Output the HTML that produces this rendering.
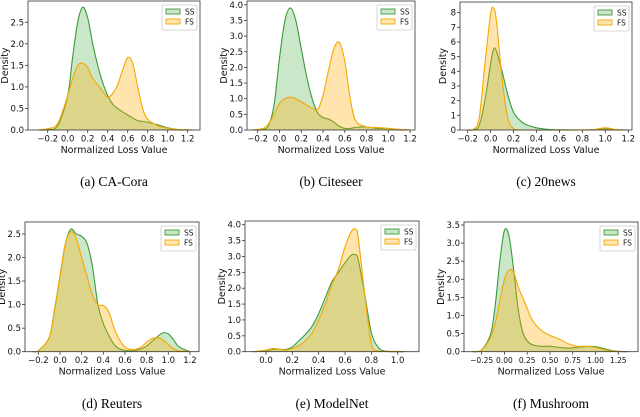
<!DOCTYPE html>
<html><head><meta charset="utf-8">
<style>
html,body{margin:0;padding:0;background:#fff;}
svg{display:block;font-family:"DejaVu Sans","Liberation Sans",sans-serif;}
.cap{font-family:"Liberation Serif",serif;font-size:13.5px;}
</style></head>
<body>
<svg id="fig" width="640" height="417" viewBox="0 0 640 417"></svg>
<script>
// Panel (a) CA-Cora
const xsA=[-0.3,-0.2,-0.1,0,0.05,0.1,0.15,0.2,0.25,0.3,0.35,0.4,0.45,0.5,0.55,0.6,0.65,0.7,0.75,0.8,0.9,1.0,1.1,1.25];
const ssA=[0,0.01,0.1,0.8,1.7,2.5,2.85,2.6,2.0,1.5,1.1,0.8,0.6,0.5,0.42,0.35,0.28,0.22,0.2,0.18,0.12,0.05,0.01,0];
const fsA=[0,0.03,0.15,0.8,1.2,1.5,1.55,1.45,1.2,1.05,0.9,0.76,0.85,1.05,1.4,1.68,1.55,1.0,0.5,0.25,0.1,0.04,0.01,0];
const xtA=["-0.2","0.0","0.2","0.4","0.6","0.8","1.0","1.2"];
const ytA=["0.0","0.5","1.0","1.5","2.0","2.5"];
// Panel (b) Citeseer
const xsB=[-0.25,-0.15,-0.1,-0.05,0,0.05,0.1,0.15,0.2,0.25,0.3,0.35,0.4,0.45,0.5,0.55,0.6,0.65,0.7,0.8,0.9,1.0,1.1,1.2];
const ssB=[0,0.02,0.15,0.8,2.3,3.5,3.9,3.5,2.6,1.7,1.0,0.55,0.4,0.35,0.25,0.12,0.05,0.05,0.08,0.1,0.05,0.05,0.01,0];
const fsB=[0,0.05,0.2,0.5,0.85,1.0,1.05,1.0,0.9,0.8,0.7,0.65,1.1,1.9,2.6,2.8,2.2,1.0,0.3,0.1,0.08,0.05,0.02,0];
const xtB=["-0.2","0.0","0.2","0.4","0.6","0.8","1.0","1.2"];
const ytB=["0.0","0.5","1.0","1.5","2.0","2.5","3.0","3.5","4.0"];
// Panel (c) 20news
const xsC=[-0.2,-0.15,-0.1,-0.05,0,0.025,0.05,0.1,0.15,0.2,0.25,0.3,0.4,0.5,0.6,0.8,0.9,0.95,1.0,1.05,1.1,1.2];
const ssC=[0,0.02,0.3,2.0,4.5,5.5,5.4,4.0,2.4,1.2,0.7,0.4,0.15,0.04,0.01,0,0.02,0.05,0.08,0.05,0.01,0];
const fsC=[0,0.05,0.8,4.5,7.9,8.3,7.5,3.5,0.8,0.1,0,0,0,0,0,0,0.03,0.1,0.15,0.1,0.02,0];
const xtC=["-0.2","0.0","0.2","0.4","0.6","0.8","1.0","1.2"];
const ytC=["0","1","2","3","4","5","6","7","8"];
// Panel (d) Reuters
const xsD=[-0.25,-0.2,-0.1,-0.05,0,0.05,0.1,0.15,0.2,0.25,0.3,0.35,0.4,0.45,0.5,0.55,0.6,0.65,0.7,0.75,0.8,0.85,0.9,0.95,1.0,1.05,1.1,1.2];
const ssD=[0,0.02,0.3,0.9,1.6,2.3,2.6,2.5,2.45,2.3,1.8,1.0,0.6,0.35,0.15,0.06,0.03,0.02,0.03,0.06,0.12,0.22,0.32,0.4,0.38,0.25,0.1,0];
const fsD=[0,0.02,0.3,0.9,1.6,2.3,2.55,2.4,2.0,1.6,1.2,1.0,0.98,0.85,0.5,0.25,0.1,0.05,0.05,0.1,0.2,0.28,0.3,0.25,0.15,0.06,0.02,0];
const xtD=["-0.2","0.0","0.2","0.4","0.6","0.8","1.0","1.2"];
const ytD=["0.0","0.5","1.0","1.5","2.0","2.5"];
// Panel (e) ModelNet
const xsE=[-0.1,0,0.05,0.1,0.15,0.2,0.25,0.3,0.35,0.4,0.45,0.5,0.55,0.6,0.65,0.68,0.7,0.75,0.8,0.85,0.9,1.0,1.05];
const ssE=[0,0.03,0.07,0.08,0.07,0.15,0.35,0.55,0.8,1.2,1.7,2.2,2.5,2.8,3.05,3.05,2.9,1.8,0.6,0.15,0.02,0,0];
const fsE=[0,0.05,0.1,0.08,0.05,0.1,0.2,0.35,0.6,1.0,1.5,2.1,2.6,3.3,3.8,3.85,3.6,1.8,0.25,0.03,0.01,0.01,0];
const xtE=["0.0","0.2","0.4","0.6","0.8","1.0"];
const ytE=["0.0","0.5","1.0","1.5","2.0","2.5","3.0","3.5","4.0"];
// Panel (f) Mushroom
const xsF=[-0.35,-0.25,-0.15,-0.1,-0.05,0,0.05,0.1,0.15,0.2,0.25,0.3,0.4,0.5,0.6,0.7,0.8,0.9,1.0,1.1,1.2,1.35];
const ssF=[0,0.05,0.5,1.3,2.5,3.35,3.2,2.3,1.2,0.55,0.3,0.2,0.15,0.15,0.12,0.1,0.12,0.14,0.14,0.08,0.02,0];
const fsF=[0,0.05,0.4,0.8,1.4,2.0,2.25,2.2,1.8,1.5,1.2,0.9,0.6,0.45,0.35,0.22,0.15,0.15,0.12,0.05,0.01,0];
const xtF=["-0.25","0.00","0.25","0.50","0.75","1.00","1.25"];
const ytF=["0.0","0.5","1.0","1.5","2.0","2.5","3.0","3.5"];

const NS="http://www.w3.org/2000/svg";
const svg=document.getElementById('fig');
function mk(tag,attrs,parent,text){const e=document.createElementNS(NS,tag);for(const k in attrs)e.setAttribute(k,attrs[k]);if(text!==undefined)e.textContent=text;(parent||svg).appendChild(e);return e;}

const panels=[
 {id:'a',cap:'(a) CA-Cora',L:28,R:200,T:1,B:130,x0:67.7,xs:100,ys:43.1,xv:xsA,ss:ssA,fs:fsA,xt:xtA,yt:ytA,capY:186,xf:8.5},
 {id:'b',cap:'(b) Citeseer',L:247,R:415,T:1,B:130,x0:279.5,xs:108.8,ys:31.3,xv:xsB,ss:ssB,fs:fsB,xt:xtB,yt:ytB,capY:186,xf:8.5},
 {id:'c',cap:'(c) 20news',L:460,R:632,T:2,B:130,x0:490.6,xs:114.7,ys:14.67,xv:xsC,ss:ssC,fs:fsC,xt:xtC,yt:ytC,capY:186,xf:8.5},
 {id:'d',cap:'(d) Reuters',L:25,R:199,T:222,B:351.7,x0:60,xs:108.3,ys:47.1,xv:xsD,ss:ssD,fs:fsD,xt:xtD,yt:ytD,capY:408,xf:8.5},
 {id:'e',cap:'(e) ModelNet',L:245,R:419,T:221,B:351.7,x0:266,xs:131.7,ys:31.75,xv:xsE,ss:ssE,fs:fsE,xt:xtE,yt:ytE,capY:408,xf:8.5},
 {id:'f',cap:'(f) Mushroom',L:464,R:638,T:222,B:351.7,x0:504.4,xs:91.1,ys:36.2,xv:xsF,ss:ssF,fs:fsF,xt:xtF,yt:ytF,capY:408,xf:7.5}
];

function smoothPath(pts){
 let d='M'+pts[0][0].toFixed(2)+','+pts[0][1].toFixed(2);
 for(let i=0;i<pts.length-1;i++){
  const p0=pts[i-1]||pts[i],p1=pts[i],p2=pts[i+1],p3=pts[i+2]||p2;
  const c1x=p1[0]+(p2[0]-p0[0])/6,c1y=p1[1]+(p2[1]-p0[1])/6;
  const c2x=p2[0]-(p3[0]-p1[0])/6,c2y=p2[1]-(p3[1]-p1[1])/6;
  d+=' C'+c1x.toFixed(2)+','+c1y.toFixed(2)+' '+c2x.toFixed(2)+','+c2y.toFixed(2)+' '+p2[0].toFixed(2)+','+p2[1].toFixed(2);
 }
 return d;
}

panels.forEach(p=>{
 const g=mk('g',{});
 
 
 const X=v=>p.x0+v*p.xs, Y=v=>p.B-v*p.ys;
 [['ss','#3a9a3a','rgba(44,160,44,0.25)'],['fs','#f5a800','rgba(255,170,0,0.32)']].forEach(([k,lc,fc])=>{
  const pts=p.xv.map((x,i)=>[X(x),Y(p[k][i])]);
  const line=smoothPath(pts);
  const area=mk('path',{d:line+' L'+pts[pts.length-1][0].toFixed(2)+','+p.B+' L'+pts[0][0].toFixed(2)+','+p.B+' Z',fill:fc,stroke:'none'},g);
  
  
  const ln=mk('path',{d:line,fill:'none',stroke:lc,'stroke-width':1.1},g);
  
  
 });
 const fr=mk('rect',{x:p.L,y:p.T,width:p.R-p.L,height:p.B-p.T,fill:'none',stroke:'#333','stroke-width':0.8},g);
 
 
 p.xt.forEach(t=>{
  const x=X(parseFloat(t));
  mk('line',{x1:x,x2:x,y1:p.B,y2:p.B+3,stroke:'#333','stroke-width':0.8},g);
  const tx=mk('text',{x:x,y:p.B+11.5,'font-size':p.xf,'text-anchor':'middle',fill:'#111'},g,t.replace('-','\u2212'));
  
  
 });
 p.yt.forEach(t=>{
  const y=Y(parseFloat(t));
  mk('line',{x1:p.L-3,x2:p.L,y1:y,y2:y,stroke:'#333','stroke-width':0.8},g);
  const ty=mk('text',{x:p.L-4,y:y+3,'font-size':8.5,'text-anchor':'end',fill:'#111'},g,t);
  
  
 });
 const xl=mk('text',{x:(p.L+p.R)/2,y:p.B+23,'font-size':9.5,'text-anchor':'middle',fill:'#111'},g,'Normalized Loss Value');
 
 
 const ylx=p.L-(p.yt[0].length>1?20:14), yly=(p.T+p.B)/2;
 const yl=mk('text',{x:ylx,y:yly,'font-size':9.5,'text-anchor':'middle',fill:'#111',transform:'rotate(-90 '+ylx+' '+yly+')'},g,'Density');
 
 
 const lg=mk('g',{},g);
 
 
 const lx=p.R-38, ly=p.T+4;
 mk('rect',{x:lx,y:ly,width:35,height:25,fill:'#fff',stroke:'#ccc','stroke-width':0.8,rx:1.5},lg);
 [['SS','rgba(44,160,44,0.25)','#3a9a3a'],['FS','rgba(255,170,0,0.32)','#f5a800']].forEach(([n,fc,lc],i)=>{
  mk('rect',{x:lx+4,y:ly+4+i*10,width:14,height:5,fill:fc,stroke:lc,'stroke-width':0.9},lg);
  const lt=mk('text',{x:lx+23,y:ly+9.5+i*10,'font-size':7.5,fill:'#111'},lg,n);
  
  
 });
 const cp=mk('text',{x:(p.L+p.R)/2,y:p.capY,'text-anchor':'middle',class:'cap',fill:'#000'},g,p.cap);
 
 
});
</script>
</body></html>
